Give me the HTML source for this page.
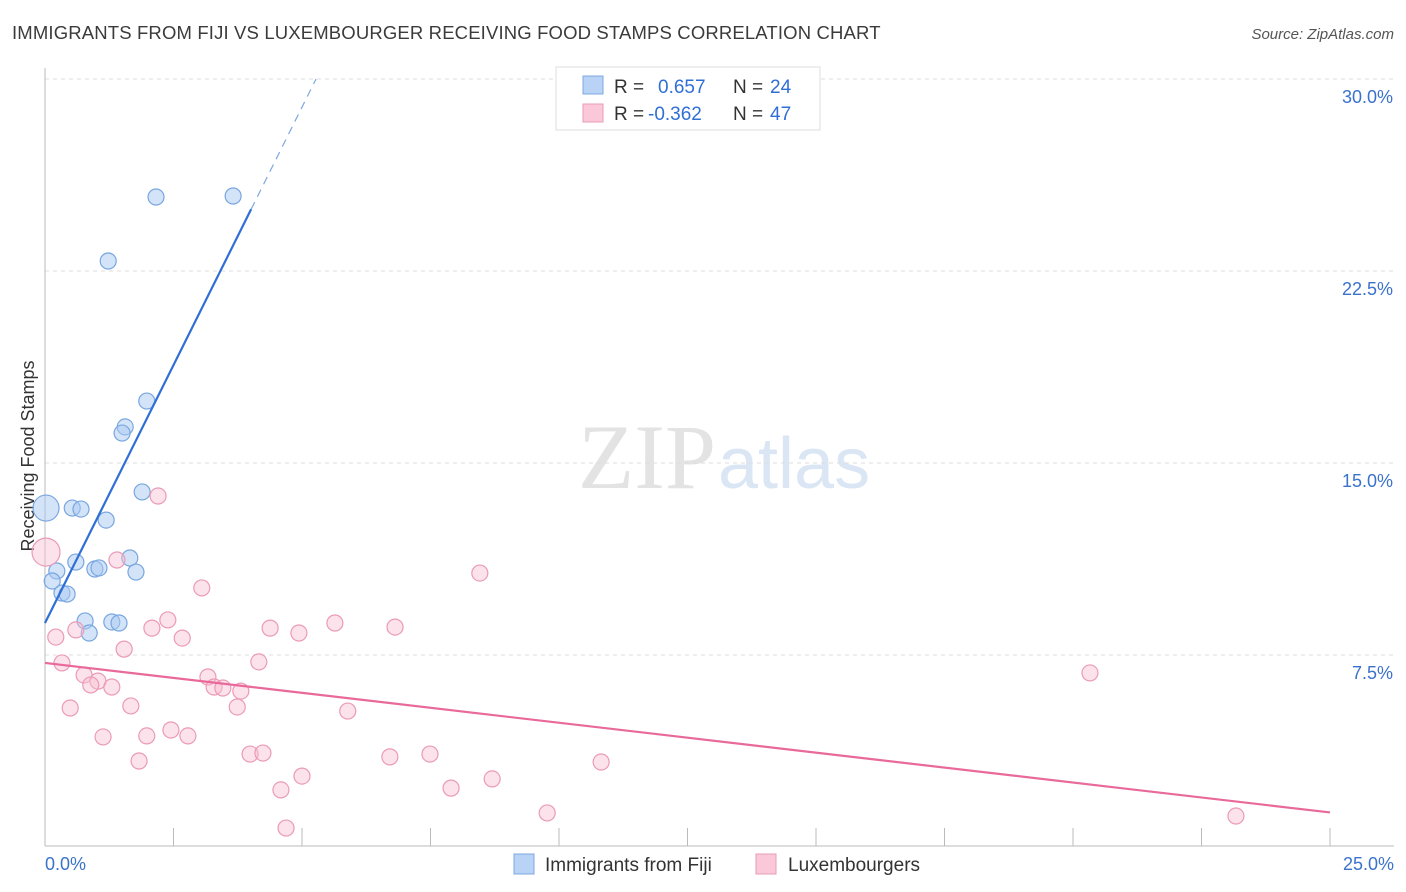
<!DOCTYPE html>
<html><head><meta charset="utf-8"><style>
body{margin:0;background:#fff;font-family:"Liberation Sans",sans-serif}
#wrap{position:relative;width:1406px;height:892px;overflow:hidden}
svg{position:absolute;left:0;top:0}
</style></head><body>
<div id="wrap">
<svg id="chart" width="1406" height="892">
<text x="12" y="39" font-size="18.5" letter-spacing="0.15" fill="#3b3b3b">IMMIGRANTS FROM FIJI VS LUXEMBOURGER RECEIVING FOOD STAMPS CORRELATION CHART</text>
<text x="1394" y="39" font-size="15" fill="#555" font-style="italic" text-anchor="end">Source: ZipAtlas.com</text>
<text x="716" y="488" font-size="92" fill="#e3e3e3" text-anchor="end" font-family="Liberation Serif,serif">ZIP</text>
<text x="718" y="488" font-size="72" fill="#dbe6f5">atlas</text>
<text transform="translate(34,456) rotate(-90)" font-size="18" fill="#333" text-anchor="middle">Receiving Food Stamps</text>
<g id="grid"></g><g id="marks"></g>
<g>
<rect x="556" y="67" width="264" height="63" fill="#fff" stroke="#ddd"/>
<rect x="583" y="76" width="20" height="18" fill="#b8d3f5" stroke="#7da9e0"/>
<rect x="583" y="104" width="20" height="18" fill="#fac8d8" stroke="#e99bb8"/>
<text x="614" y="93" font-size="19" fill="#333">R = </text><text x="658" y="93" font-size="19" fill="#2f6fd6">0.657</text>
<text x="733" y="93" font-size="19" fill="#333">N = </text><text x="770" y="93" font-size="19" fill="#2f6fd6">24</text>
<text x="614" y="120" font-size="19" fill="#333">R = </text><text x="648" y="120" font-size="19" fill="#2f6fd6">-0.362</text>
<text x="733" y="120" font-size="19" fill="#333">N = </text><text x="770" y="120" font-size="19" fill="#2f6fd6">47</text>
</g>
<g>
<rect x="514" y="854" width="20" height="20" fill="#b8d3f5" stroke="#7da9e0"/>
<text x="545" y="871" font-size="19" fill="#333">Immigrants from Fiji</text>
<rect x="756" y="854" width="20" height="20" fill="#fac8d8" stroke="#e99bb8"/>
<text x="788" y="871" font-size="19" fill="#333">Luxembourgers</text>
</g>
</svg>
</div>
<script>
const fijiX=[2.16,3.66,1.23,1.98,1.56,1.50,1.89,0.53,0.70,1.19,0.02,1.65,0.60,0.97,1.05,1.77,0.23,0.14,0.33,0.43,0.78,1.30,1.44,0.86];
const fijiY=[25.39,25.43,22.89,17.42,16.41,16.17,13.87,13.24,13.20,12.77,13.24,11.29,11.13,10.86,10.90,10.74,10.78,10.39,9.92,9.88,8.83,8.79,8.75,8.36];
const luxX=[0.02,2.20,1.40,8.46,3.05,2.39,2.08,0.60,0.21,2.67,4.38,4.94,5.64,6.81,1.54,0.33,4.16,20.33,0.76,3.17,1.03,0.89,1.30,3.29,3.46,3.81,1.67,0.49,3.74,5.89,2.45,1.13,1.98,2.78,3.99,4.24,6.71,7.49,1.83,10.82,5.00,8.70,4.59,7.90,9.77,4.69,23.17];
const luxY=[11.52,13.71,11.21,10.70,10.12,8.87,8.55,8.48,8.20,8.16,8.55,8.36,8.75,8.59,7.73,7.19,7.23,6.80,6.72,6.64,6.48,6.33,6.25,6.25,6.21,6.09,5.51,5.43,5.47,5.31,4.57,4.30,4.34,4.34,3.63,3.67,3.52,3.63,3.36,3.32,2.77,2.66,2.23,2.30,1.33,0.74,1.21];
const yTicks=[7.5,15,22.5,30];
const yTickLabels=["7.5%","15.0%","22.5%","30.0%"];
const fijiTrend=[8.75,4.03];
const luxTrend=[7.19,-0.2336];
const NS="http://www.w3.org/2000/svg";
const sx=v=>45+v*51.4, sy=v=>847-v*25.6;
function mk(tag,a,p){const e=document.createElementNS(NS,tag);for(const k in a)e.setAttribute(k,a[k]);p.appendChild(e);return e;}
const grid=document.getElementById('grid'),marks=document.getElementById('marks');
yTicks.forEach((t,i)=>{
 const l=mk('line',{x1:45,x2:1394,y1:sy(t),y2:sy(t),stroke:'#ddd','stroke-dasharray':'4,4'},grid);
 
 
 const tx=mk('text',{x:1393,y:sy(t)+24,'font-size':18,fill:'#3a72cc','text-anchor':'end'},grid);
 tx.textContent=yTickLabels[i];
 
 
});
mk('line',{x1:45,x2:45,y1:68,y2:846,stroke:'#bbb'},grid);
mk('line',{x1:45,x2:1394,y1:846,y2:846,stroke:'#bbb'},grid);
for(let i=1;i<=10;i++){const t=mk('line',{x1:sx(i*2.5),x2:sx(i*2.5),y1:828,y2:846,stroke:'#bbb'},grid);
 
 }
const x0=mk('text',{x:45,y:870,'font-size':18,fill:'#3a72cc'},grid);x0.textContent='0.0%';


const x1=mk('text',{x:1394,y:870,'font-size':18,fill:'#3a72cc','text-anchor':'end'},grid);x1.textContent='25.0%';


fijiX.forEach((x,i)=>{const c=mk('circle',{cx:sx(x),cy:sy(fijiY[i]),r:x<0.1?13:8,fill:'rgba(170,202,242,0.5)',stroke:'#78a6e0','stroke-width':1.2},marks);
 
 });
luxX.forEach((x,i)=>{const c=mk('circle',{cx:sx(x),cy:sy(luxY[i]),r:x<0.1?14:8,fill:'rgba(248,190,208,0.45)',stroke:'#eb9ab8','stroke-width':1.2},marks);
 
 });
const fe=(30-fijiTrend[0])/fijiTrend[1];
let l1=mk('line',{x1:sx(0),y1:sy(fijiTrend[0]),x2:sx(4.01),y2:sy(fijiTrend[0]+fijiTrend[1]*4.01),stroke:'#2f6fd6','stroke-width':2.2},marks);


let l2=mk('line',{x1:sx(4.01),y1:sy(fijiTrend[0]+fijiTrend[1]*4.01),x2:sx(fe),y2:sy(30),stroke:'#7da9e0','stroke-width':1.2,'stroke-dasharray':'8,6'},marks);


let l3=mk('line',{x1:sx(0),y1:sy(luxTrend[0]),x2:sx(25),y2:sy(luxTrend[0]+luxTrend[1]*25),stroke:'#e8699a','stroke-width':2.2},marks);


</script>
</body></html>
